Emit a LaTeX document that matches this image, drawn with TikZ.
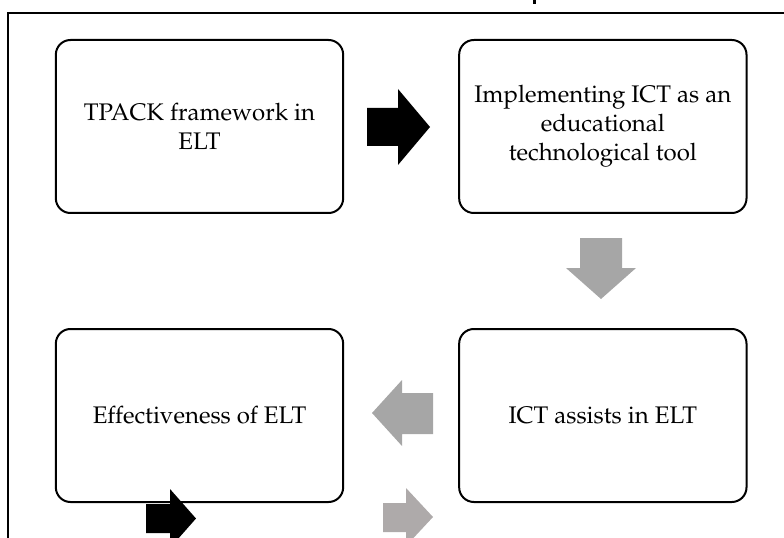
\documentclass[tikz,border=0pt]{standalone}
\usepackage[T1]{fontenc}
\usepackage{mathpazo}
\usetikzlibrary{positioning}
\definecolor{arrowGrey}{HTML}{A6A6A6}
\definecolor{arrowWarm}{HTML}{AEAAAA}

\begin{document}
\begin{tikzpicture}[x=0.75pt,y=-0.75pt,node distance=85.5pt,
    stepbox/.style={draw,line width=1.5pt,rounded corners=11pt,align=center,
      minimum width=215.5pt,minimum height=129.75pt,inner sep=4pt,
      font=\fontsize{18}{21.8}\selectfont}]
  \useasboundingbox (0,0) rectangle (784,538);
  \clip (0,0) rectangle (784,538);
  % frame of the figure, cut off by the page
  \draw[line width=1.5pt] (8,13) rectangle (820,580);
  \fill (533,0) rectangle (535.5,4);
  \node[stepbox] (tpack) at (199.5,126.5)
    {TPACK framework in\\ELT};
  \node[stepbox,right=of tpack] (implement)
    {Implementing ICT as an\\educational\\technological tool};
  \node[stepbox,below=of tpack] (effect)
    {Effectiveness of ELT};
  \node[stepbox,below=of implement] (assist)
    {ICT assists in ELT};
  % block arrows
  \fill[black] (367,108) -- (398,108) -- (398,89) -- (430,127) -- (398,165) -- (398,146) -- (367,146) -- cycle;
  \fill[arrowGrey] (580,238) -- (622,238) -- (622,268) -- (636,268) -- (601,299) -- (566,268) -- (580,268) -- cycle;
  \fill[arrowGrey] (433,393) -- (402,393) -- (402,380) -- (372,413) -- (402,446) -- (402,434) -- (433,434) -- cycle;
  \fill[black] (146,504) -- (170,504) -- (170,489) -- (196,518.5) -- (170,548) -- (170,533) -- (146,533) -- cycle;
  \fill[arrowWarm] (383,503) -- (406,503) -- (406,488) -- (433,517) -- (406,546) -- (406,532) -- (383,532) -- cycle;
\end{tikzpicture}
\end{document}
